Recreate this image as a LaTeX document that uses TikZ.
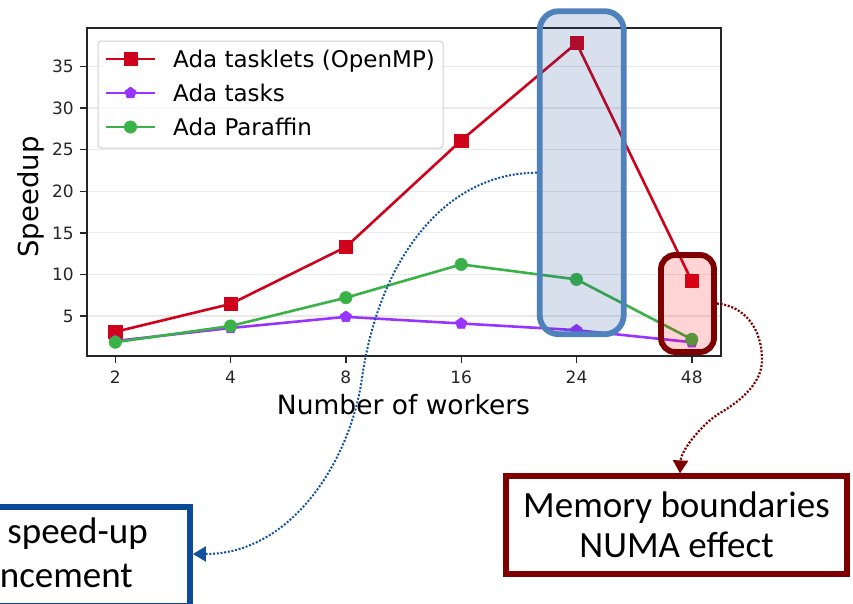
\documentclass[tikz,border=0pt]{standalone}
\usepackage{fontspec}
\setmainfont{DejaVu Sans}
\newfontfamily\calfont{Carlito}
\usetikzlibrary{arrows.meta,plotmarks}

\definecolor{tlred}{RGB}{208,2,27}
\definecolor{tkpurple}{RGB}{153,51,255}
\definecolor{pfgreen}{RGB}{58,178,72}
\definecolor{axisgray}{RGB}{38,38,38}
\definecolor{gridgray}{RGB}{234,234,234}
\definecolor{legendgray}{RGB}{208,208,208}
\definecolor{hlbluedraw}{RGB}{79,129,189}
\definecolor{hlbluefill}{RGB}{20,72,143}
\definecolor{numared}{RGB}{127,0,0}
\definecolor{noteblue}{RGB}{10,74,150}
\definecolor{dotblue}{RGB}{20,82,160}
\definecolor{dotred}{RGB}{125,0,0}

\tikzset{
  gridline/.style={gridgray, line width=1.2pt},
  axisline/.style={axisgray, line width=1.4pt},
  ticklabel/.style={inner sep=0pt, font=\fontsize{17}{20}\selectfont, text=axisgray},
  axislabel/.style={inner sep=0pt, font=\fontsize{26.5}{30}\selectfont},
  legendtext/.style={inner sep=0pt, anchor=base west, font=\fontsize{23}{27}\selectfont},
  redseries/.style={tlred, line width=2.6pt, line join=round,
    mark=square*, mark size=6.6pt, mark options={solid, fill=tlred, draw=tlred, line width=0.5pt}},
  purpleseries/.style={tkpurple, line width=2.6pt, line join=round,
    mark=pentagon*, mark size=6pt, mark options={solid, fill=tkpurple, draw=tkpurple, line width=0.5pt}},
  greenseries/.style={pfgreen, line width=2.6pt, line join=round,
    mark=*, mark size=6.2pt, mark options={solid, fill=pfgreen, draw=pfgreen, line width=0.5pt}},
  highlight/.style={line width=5.8pt, inner sep=0pt},
  notebox/.style={line width=5.8pt, inner sep=0pt, font=\calfont\fontsize{37}{40}\selectfont, align=center},
  notetext/.style={inner sep=0pt, anchor=base east, font=\calfont\fontsize{37}{40}\selectfont},
  dotlink/.style={line width=2pt, dash pattern=on 2pt off 1.7pt,
    -{Triangle[length=13pt,width=15pt]}},
}

\begin{document}
\begin{tikzpicture}[x=1pt,y=-1pt]
\useasboundingbox[fill=white] (0,0) rectangle (853,603);

% ---------- speedup chart (data coordinates: worker index, speedup) ----------
\begin{scope}[shift={(115.3,357.6)}, x=115.3pt, y=8.32pt]
  \foreach \v in {5,10,...,35} {
    \draw[gridline] (-0.2455,\v) -- (5.253,\v);
    \draw[axisline] (-0.2455,\v) -- ++(-7pt,0);
    \node[ticklabel, anchor=base east, xshift=-13pt, yshift=-6.2pt] (yt\v) at (-0.2455,\v) {\v};
  }
  \foreach \i/\w in {0/2,1/4,2/8,3/16,4/24,5/48} {
    \draw[axisline] (\i,0.19) -- ++(0,-7pt);
    \node[ticklabel, anchor=base, yshift=-27pt] (xt\w) at (\i,0.19) {\w};
  }
  \draw[axisline] (-0.2455,0.19) rectangle (5.253,39.6);

  \draw[redseries] plot coordinates {(0,3.1) (1,6.45) (2,13.3) (3,26.1) (4,37.8) (5,9.2)};
  \draw[purpleseries] plot coordinates {(0,2.0) (1,3.56) (2,4.9) (3,4.1) (4,3.3) (5,1.85)};
  \draw[greenseries] plot coordinates {(0,1.85) (1,3.8) (2,7.2) (3,11.2) (4,9.4) (5,2.2)};
\end{scope}

% axis labels
\node[axislabel, anchor=base] (xlabel) at (403.5,414) {Number of workers};
\node[axislabel, font=\fontsize{27.5}{30}\selectfont, anchor=base, rotate=90] (ylabel) at (38.5,197) {Speedup};

% legend
\draw[legendgray, line width=1pt, rounded corners=3pt, fill=white, fill opacity=0.8] (98,41) rectangle (443,148);
\draw[redseries] (106,59) -- (155,59);
\draw[redseries] plot coordinates {(130.5,59)};
\draw[purpleseries] (106,93) -- (155,93);
\draw[purpleseries] plot coordinates {(130.5,93)};
\draw[greenseries] (106,127) -- (155,127);
\draw[greenseries] plot coordinates {(130.5,127)};
\node[legendtext] (lg1) at (173,67) {Ada tasklets (OpenMP)};
\node[legendtext] (lg2) at (173,101) {Ada tasks};
\node[legendtext] (lg3) at (173,135) {Ada Paraffin};

% highlighted regions
\node[highlight, draw=hlbluedraw, fill=hlbluefill, fill opacity=0.17, rounded corners=19pt,
      minimum width=84pt, minimum height=323pt] (hlblue) at (581.7,172.7) {};
\node[highlight, draw=numared, fill=red, fill opacity=0.17, rounded corners=14pt,
      minimum width=53pt, minimum height=97pt] (hlred) at (687.5,303.5) {};

% annotation boxes
\node[notebox, draw=numared, minimum width=341pt, minimum height=97.4pt] (mem) at (676.5,525)
  {Memory boundaries\\NUMA effect};
\node[notebox, draw=noteblue, minimum width=300pt, minimum height=99.5pt] (gain) at (40,556.5) {};
\node[notetext] (gain1) at (148,543) {speed-up};
\node[notetext] (gain2) at (133,587) {ncement};

% dotted links
\draw[dotlink, dotblue] (hlblue.west) .. controls (441,173) and (378,265) .. (362,378)
  .. controls (351,458) and (293,554) .. ([yshift=2.5pt]gain.east);
\draw[dotlink, dotred, line width=2.2pt] (hlred.east) .. controls (745,306) and (762,329) .. (762,360)
  .. controls (762,385) and (737,403) .. (720,413)
  .. controls (703,423) and (681,450) .. ([xshift=3.5pt]mem.north);
\end{tikzpicture}
\end{document}
